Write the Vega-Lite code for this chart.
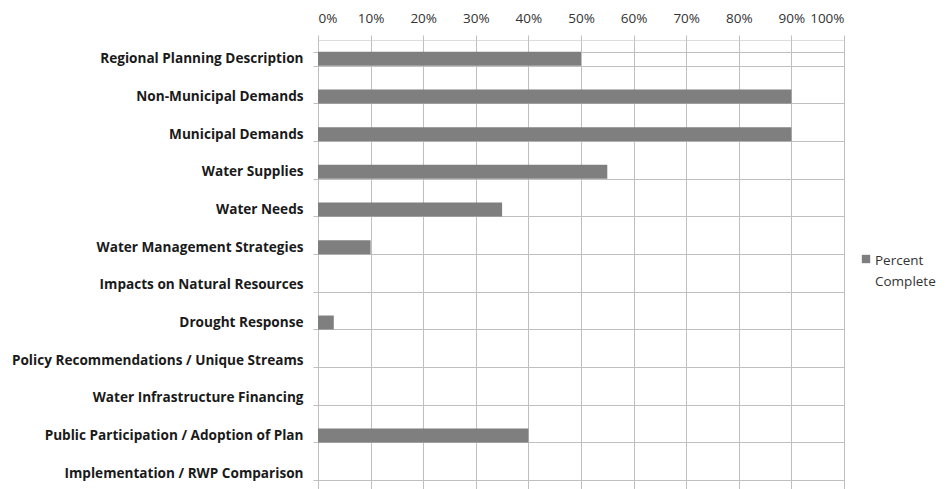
{
  "$schema": "https://vega.github.io/schema/vega-lite/v6.json",
  "autosize": "none",
  "padding": {"left": 318, "top": 40, "right": 103, "bottom": 0},
  "width": 526,
  "height": 452,
  "background": "white",
  "data": {
    "values": [
      {"task": "Regional Planning Description", "pct": 0.50, "series": "Percent Complete"},
      {"task": "Non-Municipal Demands", "pct": 0.90, "series": "Percent Complete"},
      {"task": "Municipal Demands", "pct": 0.90, "series": "Percent Complete"},
      {"task": "Water Supplies", "pct": 0.55, "series": "Percent Complete"},
      {"task": "Water Needs", "pct": 0.35, "series": "Percent Complete"},
      {"task": "Water Management Strategies", "pct": 0.10, "series": "Percent Complete"},
      {"task": "Impacts on Natural Resources", "pct": 0.0, "series": "Percent Complete"},
      {"task": "Drought Response", "pct": 0.03, "series": "Percent Complete"},
      {"task": "Policy Recommendations / Unique Streams", "pct": 0.0, "series": "Percent Complete"},
      {"task": "Water Infrastructure Financing", "pct": 0.0, "series": "Percent Complete"},
      {"task": "Public Participation / Adoption of Plan", "pct": 0.40, "series": "Percent Complete"},
      {"task": "Implementation / RWP Comparison", "pct": 0.0, "series": "Percent Complete"}
    ]
  },
  "mark": {"type": "bar"},
  "encoding": {
    "y": {
      "field": "task",
      "type": "nominal",
      "sort": null,
      "title": null,
      "scale": {"paddingInner": 0.63, "paddingOuter": 0.315},
      "axis": {
        "domain": false,
        "tickBand": "extent",
        "grid": true,
        "gridColor": "#bfbfbf",
        "gridWidth": 1,
        "ticks": true,
        "tickColor": "#bfbfbf",
        "tickSize": 5,
        "labelFont": "Open Sans",
        "labelFontWeight": "bold",
        "labelFontSize": 13.6,
        "labelColor": "#1a1a1a",
        "labelPadding": 10,
        "labelLimit": 320
      }
    },
    "x": {
      "field": "pct",
      "type": "quantitative",
      "title": null,
      "scale": {"domain": [0, 1], "nice": false},
      "axis": {
        "orient": "top",
        "format": ".0%",
        "values": [0, 0.1, 0.2, 0.3, 0.4, 0.5, 0.6, 0.7, 0.8, 0.9, 1],
        "domain": false,
        "grid": true,
        "gridColor": "#bfbfbf",
        "gridWidth": 1,
        "tickColor": "#bfbfbf",
        "tickSize": 5,
        "labelFont": "Open Sans",
        "labelFontSize": 13.5,
        "labelColor": "#333333",
        "labelPadding": 10
      }
    },
    "color": {
      "field": "series",
      "type": "nominal",
      "scale": {"range": ["#7f7f7f"]},
      "legend": {
        "title": ["Percent", "Complete"],
        "titleOrient": "right",
        "titleAnchor": "start",
        "titleBaseline": "top",
        "titleLineHeight": 21,
        "titleFont": "Open Sans",
        "titleFontWeight": "normal",
        "titleFontSize": 13.5,
        "titleColor": "#333333",
        "titlePadding": 4,
        "orient": "none",
        "legendX": 543,
        "legendY": 214,
        "symbolType": "square",
        "symbolSize": 70,
        "symbolStrokeWidth": 0,
        "labelExpr": "''",
        "labelOffset": 0
      }
    }
  }
}
